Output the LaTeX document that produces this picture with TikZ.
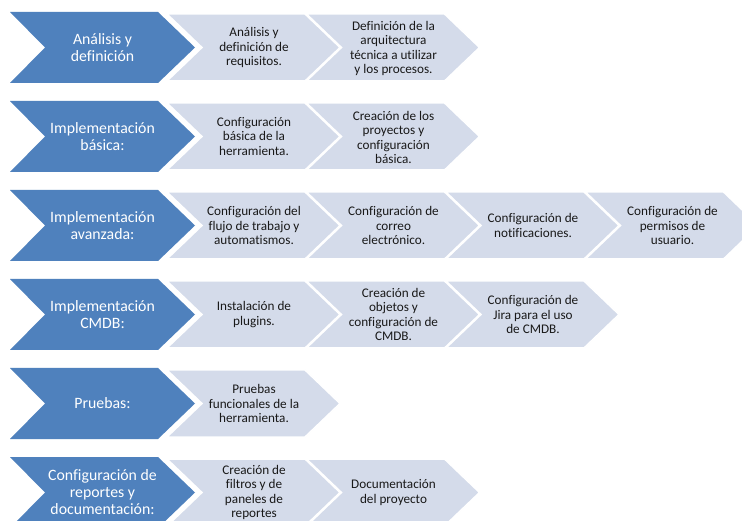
\documentclass[tikz,border=0pt]{standalone}
\usepackage{fontspec}
\setmainfont{Carlito}[Ligatures=CommonOff]
\definecolor{accent}{RGB}{79,129,189}
\definecolor{tint}{RGB}{212,219,234}
\definecolor{ink}{RGB}{25,25,25}
\tikzset{
  bluechev/.style={fill=accent},
  lightchev/.style={fill=tint, draw=white, line width=1.5pt, line join=miter},
  bluetext/.style={text=white, font=\fontsize{15.8}{17}\selectfont, align=center, inner sep=0pt},
  lighttext/.style={text=ink, font=\fontsize{13.2}{14.5}\selectfont, align=center, inner sep=0pt},
}
% blue chevron: #1 = top y
\newcommand{\bchev}[1]{\path[bluechev] (10,#1) -- (158,#1) -- (195,{#1+35.5}) -- (158,{#1+71}) -- (10,{#1+71}) -- (45,{#1+35.5}) -- cycle;}
% light chevron: #1 = left x, #2 = top y of row
\newcommand{\lchev}[2]{\path[lightchev] (#1,{#2+2}) -- ({#1+138},{#2+2}) -- ({#1+173},{#2+35.5}) -- ({#1+138},{#2+69}) -- (#1,{#2+69}) -- ({#1+35},{#2+35.5}) -- cycle;}
\begin{document}
\begin{tikzpicture}[x=1pt,y=-1pt]
\useasboundingbox (0,0) rectangle (742,521);
\clip (0,0) rectangle (742,521);
\fill[white] (0,0) rectangle (742,521);

% ---------- Row 1 ----------
\bchev{12}
\lchev{167}{12}
\lchev{306.5}{12}
\node[bluetext] (b1) at (102.5,47.5) {Análisis y\\definición};
\node[lighttext] (l11) at (254,47.5) {Análisis y\\definición de\\requisitos.};
\node[lighttext] (l12) at (393.5,48.5) {Definición de la\\arquitectura\\técnica a utilizar\\y los procesos.};

% ---------- Row 2 ----------
\bchev{101}
\lchev{167}{101}
\lchev{306.5}{101}
\node[bluetext] (b2) at (102.5,136.5) {Implementación\\básica:};
\node[lighttext] (l21) at (254,136.5) {Configuración\\básica de la\\herramienta.};
\node[lighttext] (l22) at (393.5,137.5) {Creación de los\\proyectos y\\configuración\\básica.};

% ---------- Row 3 ----------
\bchev{190}
\lchev{167}{190}
\lchev{306.5}{190}
\lchev{446}{190}
\lchev{585.5}{190}
\node[bluetext] (b3) at (102.5,225.5) {Implementación\\avanzada:};
\node[lighttext] (l31) at (254,225.5) {Configuración del\\flujo de trabajo y\\automatismos.};
\node[lighttext] (l32) at (393.5,225.5) {Configuración de\\correo\\electrónico.};
\node[lighttext] (l33) at (533,225.5) {Configuración de\\notificaciones.};
\node[lighttext] (l34) at (672.5,225.5) {Configuración de\\permisos de\\usuario.};

% ---------- Row 4 ----------
\bchev{279}
\lchev{167}{279}
\lchev{306.5}{279}
\lchev{446}{279}
\node[bluetext] (b4) at (102.5,314.5) {Implementación\\CMDB:};
\node[lighttext] (l41) at (254,314.5) {Instalación de\\plugins.};
\node[lighttext] (l42) at (393.5,314.5) {Creación de\\objetos y\\configuración de\\CMDB.};
\node[lighttext] (l43) at (533,314.5) {Configuración de\\Jira para el uso\\de CMDB.};

% ---------- Row 5 ----------
\bchev{368}
\lchev{167}{368}
\node[bluetext] (b5) at (102.5,403.5) {Pruebas:};
\node[lighttext] (l51) at (254,403.5) {Pruebas\\funcionales de la\\herramienta.};

% ---------- Row 6 ----------
\bchev{457}
\lchev{167}{457}
\lchev{306.5}{457}
\node[bluetext] (b6) at (102.5,492.5) {Configuración de\\reportes y\\documentación:};
\node[lighttext] (l61) at (254,492.5) {Creación de\\filtros y de\\paneles de\\reportes};
\node[lighttext] (l62) at (393.5,492.5) {Documentación\\del proyecto};
\end{tikzpicture}
\end{document}
